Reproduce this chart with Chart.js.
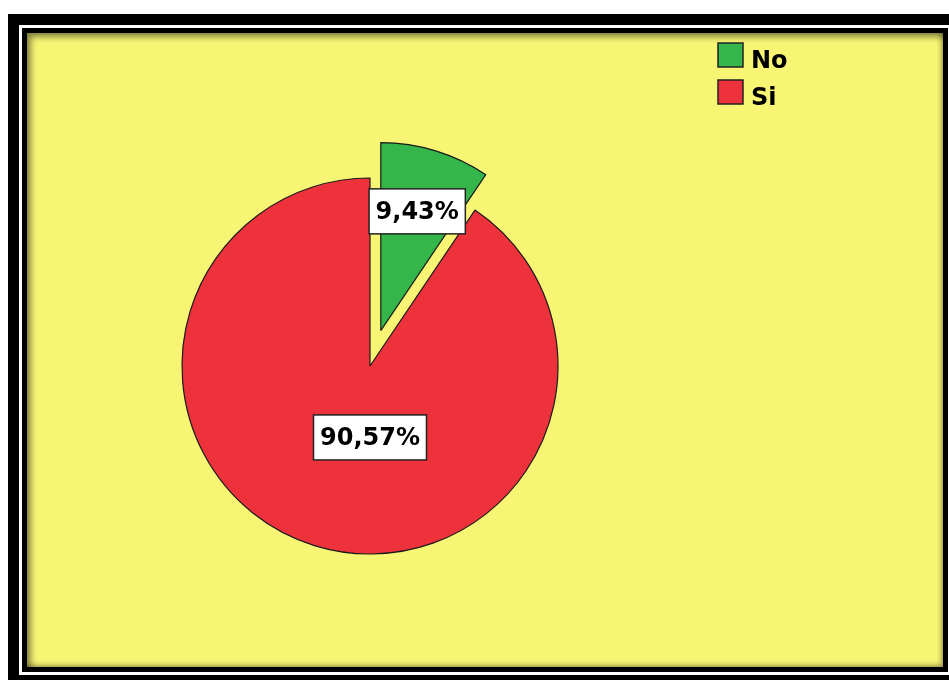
<!DOCTYPE html>
<html>
<head>
<meta charset="utf-8">
<script src="https://cdn.jsdelivr.net/npm/chart.js@4.4.0/dist/chart.umd.min.js"></script>
<style>
    body { margin: 0; background: #fff; width: 949px; height: 680px; overflow: hidden; position: relative; }
    .outer { position: absolute; left: 8px; top: 14px; width: 954px; height: 672px; box-sizing: border-box; border: 11px solid #000; }
    .mid { width: 100%; height: 100%; box-sizing: border-box; border: 3px solid #fff; }
    .inner { width: 100%; height: 100%; box-sizing: border-box; border: 5px solid #000; }
    .plot { position: relative; width: 100%; height: 100%; background: #f9f574;
            box-shadow: inset 4px 4px 6px rgba(0,0,0,0.45), inset -2px -2px 5px rgba(0,0,0,0.35); }
    canvas { position: absolute; left: 0; top: 0; }
</style>
</head>
<body>
<div class="outer"><div class="mid"><div class="inner"><div class="plot">
    <canvas id="chart" width="916" height="634"></canvas>
</div></div></div></div>
<script>
// data
const categories = ['No', 'Si'];
const percents = [9.43, 90.57];
const percentLabels = ['9,43%', '90,57%'];
const sliceColors = ['#34b64a', '#ee323c'];

// pull the "No" slice out of the pie, keeping its size (rigid move along its bisector)
const explode = {
    id: 'explode',
    afterDatasetsUpdate(chart) {
        const dist = [37, 0];
        chart.getDatasetMeta(0).data.forEach((arc, i) => {
            const mid = (arc.startAngle + arc.endAngle) / 2;
            arc.x += Math.cos(mid) * dist[i];
            arc.y += Math.sin(mid) * dist[i];
        });
    }
};

// value boxes drawn on top of the slices
const valueBoxes = {
    id: 'valueBoxes',
    afterDatasetsDraw(chart) {
        const ctx = chart.ctx;
        const area = chart.chartArea;
        const cx0 = (area.left + area.right) / 2;
        const cy0 = (area.top + area.bottom) / 2;
        const arcs = chart.getDatasetMeta(0).data;
        // placement of each box: angle from top (deg, null = bisector) and fraction of radius
        const place = [{ angle: null, r: 0.86 }, { angle: 180, r: 0.38 }];
        ctx.save();
        ctx.font = 'bold 24px "DejaVu Sans"';
        ctx.textAlign = 'center';
        ctx.textBaseline = 'middle';
        arcs.forEach((arc, i) => {
            const a = place[i].angle === null ? (arc.startAngle + arc.endAngle) / 2 : (place[i].angle - 90) * Math.PI / 180;
            const cx = cx0 + Math.cos(a) * arc.outerRadius * place[i].r;
            const cy = cy0 + Math.sin(a) * arc.outerRadius * place[i].r;
            const txt = percentLabels[i];
            const w = ctx.measureText(txt).width + 13;
            const h = 45;
            ctx.fillStyle = '#fff';
            ctx.fillRect(cx - w / 2, cy - h / 2, w, h);
            ctx.strokeStyle = '#222';
            ctx.lineWidth = 1.5;
            ctx.strokeRect(cx - w / 2, cy - h / 2, w, h);
            ctx.fillStyle = '#000';
            ctx.fillText(txt, cx, cy + 1);
        });
        ctx.restore();
    }
};

// simple legend in the top right corner
const cornerLegend = {
    id: 'cornerLegend',
    afterDraw(chart) {
        const ctx = chart.ctx;
        ctx.save();
        ctx.font = 'bold 24px "DejaVu Sans"';
        ctx.textBaseline = 'alphabetic';
        categories.forEach((c, i) => {
            const y = 10 + i * 37;
            ctx.fillStyle = sliceColors[i];
            ctx.fillRect(691, y, 25, 24);
            ctx.strokeStyle = '#222';
            ctx.lineWidth = 1.5;
            ctx.strokeRect(691, y, 25, 24);
            ctx.fillStyle = '#000';
            ctx.fillText(c, 724, y + 25);
        });
        ctx.restore();
    }
};

const config = {
    type: 'pie',
    data: {
        labels: categories,
        datasets: [{
            data: percents,
            backgroundColor: sliceColors,
            borderColor: '#1a1a1a',
            borderWidth: 1.2
        }]
    },
    options: {
        responsive: false,
        animation: false,
        radius: 188,
        layout: { padding: { left: 100, right: 330, top: 80, bottom: 48 } },
        plugins: {
            legend: { display: false },
            tooltip: { enabled: false }
        }
    },
    plugins: [explode, valueBoxes, cornerLegend]
};

var ctx = document.getElementById('chart').getContext('2d');
var myChart = new Chart(ctx, config);
</script>
</body>
</html>
